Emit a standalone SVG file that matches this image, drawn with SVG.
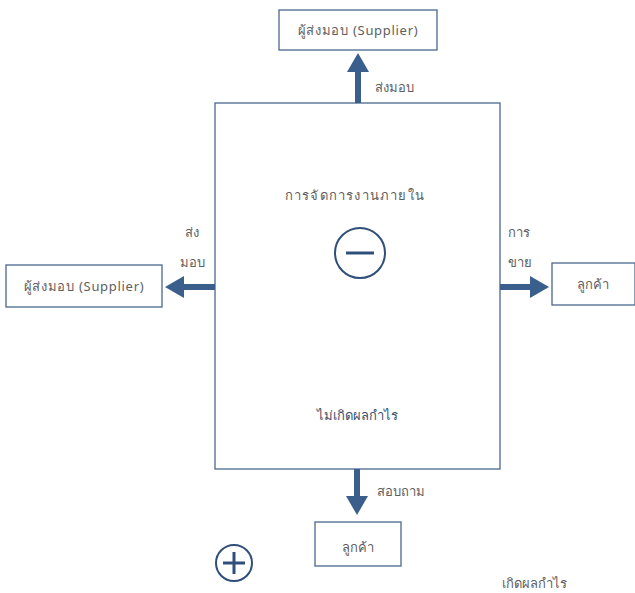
<svg xmlns="http://www.w3.org/2000/svg" width="635" height="593" viewBox="0 0 635 593">
<defs>
<style>
.box{fill:#fff;stroke:#4a6890;stroke-width:1.3}
.t{font-family:"Noto Sans","DejaVu Sans",sans-serif;font-size:13px;fill:#5e5e5e}
.td{font-family:"Noto Sans","DejaVu Sans",sans-serif;font-size:13px;fill:#3d4f6a}
.arr{fill:#3a5f8c}
.circ{fill:none;stroke:#2f4f7a;stroke-width:2}
.bar{stroke:#2f4f7a;stroke-width:3;stroke-linecap:butt}
</style>
</defs>
<rect width="635" height="593" fill="#fff"/>
<g id="main">
<rect class="box" x="215" y="103" width="285" height="366"/>
<text class="t" x="355" y="200" text-anchor="middle" letter-spacing="1.2">การจัดการงานภายใน</text>
<circle class="circ" cx="360" cy="253" r="25"/>
<line class="bar" x1="346" y1="253" x2="374" y2="253"/>
<text class="td" x="357" y="420" text-anchor="middle">ไม่เกิดผลกำไร</text>
</g>
<g id="supplier-top">
<rect class="box" x="279" y="10" width="158" height="40"/>
<text class="t" x="358" y="35" text-anchor="middle" letter-spacing="0.7">ผู้ส่งมอบ (Supplier)</text>
</g>
<g id="supplier-left">
<rect class="box" x="6" y="265" width="156" height="42"/>
<text class="t" x="84" y="291" text-anchor="middle" letter-spacing="0.7">ผู้ส่งมอบ (Supplier)</text>
</g>
<g id="customer-right">
<rect class="box" x="552" y="263" width="83" height="42"/>
<text class="t" x="593" y="289" text-anchor="middle">ลูกค้า</text>
</g>
<g id="customer-bottom">
<rect class="box" x="315" y="522" width="86" height="44"/>
<text class="t" x="358" y="552" text-anchor="middle">ลูกค้า</text>
</g>
<g id="plus">
<circle class="circ" cx="234" cy="563" r="18"/>
<line class="bar" x1="223" y1="563" x2="245" y2="563"/>
<line class="bar" x1="234" y1="552" x2="234" y2="574"/>
</g>
<g id="connectors">
<rect class="arr" x="355" y="70" width="6" height="33"/>
<polygon class="arr" points="347,72 358,53 369,72"/>
<rect class="arr" x="182" y="284" width="33" height="6"/>
<polygon class="arr" points="184,276 165,287 184,298"/>
<rect class="arr" x="500" y="284" width="31" height="6"/>
<polygon class="arr" points="530,276 549,287 530,298"/>
<rect class="arr" x="354" y="469" width="6" height="29"/>
<polygon class="arr" points="346,496 357,515 368,496"/>
<text class="t" x="375" y="92">ส่งมอบ</text>
<text class="t" x="185" y="237">ส่ง</text>
<text class="t" x="180" y="267">มอบ</text>
<text class="t" x="508" y="237">การ</text>
<text class="t" x="508" y="267">ขาย</text>
<text class="t" x="377" y="496">สอบถาม</text>
<text class="t" x="502" y="588">เกิดผลกำไร</text>
</g>
</svg>
